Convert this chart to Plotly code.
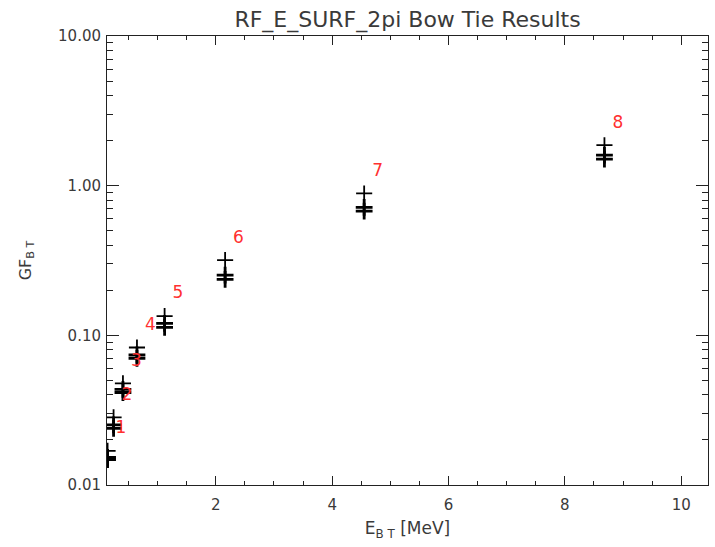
import plotly.graph_objects as go

# Data
labels = ["1", "2", "3", "4", "5", "6", "7", "8"]
energy = [0.14, 0.243, 0.404, 0.645, 1.12, 2.16, 4.55, 8.68]          # E_BT [MeV]
gf_upper = [0.0169, 0.0283, 0.0478, 0.0829, 0.1345, 0.318, 0.887, 1.863]  # upper "+" estimate
gf_mid = [0.0153, 0.0252, 0.0435, 0.0739, 0.1202, 0.2526, 0.715, 1.598]   # bow-tie result A
gf_low = [0.0148, 0.0239, 0.0415, 0.0702, 0.1131, 0.2364, 0.676, 1.503]   # bow-tie result B

x_ticks = [2, 4, 6, 8, 10]
x_minor = [0.5, 1, 1.5, 2.5, 3, 3.5, 4.5, 5, 5.5, 6.5, 7, 7.5, 8.5, 9, 9.5, 10.5]
y_ticks = [0.01, 0.1, 1, 10]
y_ticktext = ["0.01", "0.10", "1.00", "10.00"]
y_minor = [m * d for d in (0.01, 0.1, 1) for m in range(2, 10)]

FONT = "DejaVu Sans"
INK = "#3a3a3a"

fig = go.Figure()

fig.add_trace(go.Scatter(
    x=energy, y=gf_upper, mode="markers",
    marker=dict(symbol="cross-thin", size=11.5, line=dict(width=1.8, color="black")),
    cliponaxis=True, showlegend=False, hoverinfo="x+y"))
for vals in (gf_mid, gf_low):
    fig.add_trace(go.Scatter(
        x=energy, y=vals, mode="markers",
        marker=dict(symbol="cross-thin", size=12, line=dict(width=2.8, color="black")),
        cliponaxis=True, showlegend=False, hoverinfo="x+y"))

# point number labels, offset up/right of the upper marker
fig.add_trace(go.Scatter(
    x=[e + 0.23 for e in energy], y=[g * 1.40 for g in gf_upper],
    mode="text", text=labels, textposition="middle center",
    textfont=dict(family=FONT, size=17, color="#ff3030"),
    cliponaxis=False, showlegend=False, hoverinfo="skip"))

axis_common = dict(
    showgrid=False, zeroline=False, showline=True, linecolor="#222", linewidth=1,
    mirror="ticks", ticks="inside", tickcolor="#222", tickwidth=1,
    tickfont=dict(family=FONT, size=15, color=INK),
)

fig.update_xaxes(
    **axis_common, range=[0.13, 10.46], tickvals=x_ticks, ticklen=9,
    ticklabelstandoff=6,
    minor=dict(tickvals=x_minor, ticklen=4, ticks="inside", tickcolor="#222"),
    title=dict(text="E<sub>B T</sub> [MeV]", font=dict(family=FONT, size=17, color=INK),
               standoff=9),
)
fig.update_yaxes(
    **axis_common, type="log", range=[-2, 1], tickvals=y_ticks, ticktext=y_ticktext,
    ticklen=12, ticklabelstandoff=2,
    minor=dict(tickvals=y_minor, ticklen=6, ticks="inside", tickcolor="#222"),
    title=dict(text="GF<sub>B T</sub>", font=dict(family=FONT, size=16, color=INK),
               standoff=22),
)

fig.update_layout(
    width=715, height=547,
    margin=dict(l=107, r=7, t=36, b=62),
    paper_bgcolor="white", plot_bgcolor="white",
    title=dict(text="RF_E_SURF_2pi Bow Tie Results", x=0.57, xanchor="center",
               y=0.965, yanchor="middle",
               font=dict(family=FONT, size=22, color=INK)),
)

fig.write_html("out.html")
